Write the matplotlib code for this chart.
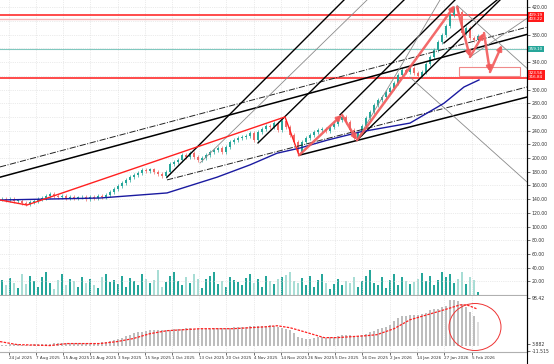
import matplotlib
matplotlib.use("Agg")
import matplotlib.pyplot as plt
import matplotlib.transforms as mtransforms
from matplotlib.patches import Rectangle, Ellipse
from matplotlib.lines import Line2D
import numpy as np

# closing prices, one per bar
closes = [140.2, 138.7, 140.2, 137.2, 137.9, 134.3, 132.9, 135.8, 137.2, 140.2,
          141.6, 144.5, 147.5, 144.5, 143.1, 144.5, 141.6, 143.1, 141.6, 142.4,
          143.1, 140.2, 143.1, 141.6, 144.5, 143.1, 146.0, 150.4, 154.8, 159.1,
          163.5, 167.9, 172.3, 175.2, 178.1, 182.5, 181.0, 183.5, 179.6, 176.7,
          173.7, 179.6, 191.3, 194.2, 197.1, 204.4, 201.5, 207.3, 201.5, 197.1,
          200.0, 204.4, 208.8, 211.7, 214.6, 208.8, 216.1, 223.4, 226.3, 229.2,
          230.7, 232.1, 236.5, 226.3, 238.0, 242.4, 246.7, 245.3, 251.1, 240.9,
          254.0, 245.3, 233.6, 223.4, 208.8, 223.4, 229.2, 233.6, 238.0, 240.9,
          242.4, 239.4, 245.3, 249.7, 255.5, 259.9, 252.6, 240.9, 229.2, 236.5,
          246.7, 258.4, 267.2, 277.4, 284.7, 289.1, 296.4, 302.2, 309.5, 321.2,
          328.5, 325.6, 331.4, 324.1, 319.7, 325.6, 337.3, 347.5, 357.7, 369.4,
          379.6, 392.7, 408.8, 419.0, 413.2, 382.5, 389.8, 375.2, 372.3, 378.1]
first_open = 139.5

volumes = [22, 14, 25, 18, 10, 30, 16, 28, 20, 12, 26, 34, 18, 9, 22, 30, 15, 24, 20, 12,
           27, 18, 23, 14, 10, 26, 31, 19, 22, 16, 28, 12, 25, 20, 14, 30, 24, 17, 22, 36,
           12, 19, 28, 33, 21, 15, 26, 18, 31, 23, 10, 24, 28, 34, 16, 20, 12, 27, 22, 19,
           14, 25, 30, 18, 23, 11, 28, 20, 16, 24, 26, 29, 33, 21, 17, 25, 14, 28, 12, 22,
           30, 18, 9, 16, 24, 14, 20, 17, 26, 12, 21, 28, 36, 18, 14, 26, 10, 22, 30, 15,
           27, 21, 16, 19, 24, 32, 20, 28, 14, 22, 33, 26, 30, 18, 24, 33, 16, 27, 22, 4]

# oscillator histogram and its signal line
osc_hist = [2, 2, 3, 3, 3, 2, 2, 2, 3, 3, 4, 4, 4, 5, 6, 6, 6, 6, 6, 5,
            5, 6, 6, 6, 6, 7, 8, 9, 11, 13, 16, 19, 22, 25, 27, 28, 30, 31, 32, 32,
            31, 31, 32, 33, 34, 34, 35, 35, 34, 34, 34, 34, 34, 35, 35, 35, 36, 36, 37, 37,
            38, 38, 39, 39, 40, 40, 40, 41, 40, 38, 36, 33, 31, 26, 18, 15, 14, 14, 15, 17,
            18, 16, 17, 18, 20, 22, 22, 21, 18, 19, 22, 24, 27, 30, 33, 35, 38, 42, 50, 56,
            59, 60, 61, 62, 62, 63, 66, 72, 73, 74, 77, 80, 92, 92, 89, 84, 78, 68, 60, 48]
sig_idx = [-0.5, 3.75, 12, 16.25, 24.5, 28.75, 32.75, 37, 41.25, 49.5, 57.75, 66.25, 68.75,
           72, 75.5, 80.5, 83.75, 91.25, 93.75, 98, 102, 106.25, 110.5, 114.5, 116.25, 118.75]
sig_val = [8, 2, 0, 4, 4, 8, 14, 24, 30, 34, 34, 38, 40,
           36, 28, 16, 16, 20, 22, 34, 52, 62, 72, 82, 82, 74]

# moving average
ma_idx = [-0.5, 24.5, 41.25, 53.75, 62, 68.75, 74.5, 81.25, 89.5, 102, 110.5, 115.5, 119.25]
ma_val = [138.7, 141.6, 149, 172, 190, 207, 214.6, 226, 238, 251, 280, 303.7, 314]

# zigzag and projected path
zig_idx = [-0.5, 6.25, 70.75, 74.25]
zig_val = [138.7, 131.4, 260, 204]
path_idx = [74.25, 85, 88.75, 113.25]
path_val = [204, 263, 226, 423]
proj_idx = [113.75, 117, 120.5, 122, 125]
proj_val = [420.5, 347.5, 382.5, 325.6, 365]

# trend lines: (x0, y0, x1, y1)
channel_solid = [(-0.5, 172, 131.25, 380.5), (74.25, 204, 131.25, 289)]
channel_dashdot = [(-0.5, 187, 131.25, 391), (41.25, 168, 131.25, 303.7)]
fan_black = [(41.25, 172, 85.5, 430.7), (64, 222, 100.5, 430.7),
             (84.5, 263, 113.25, 430.7), (88.75, 226, 124.5, 430.7),
             (110.5, 368, 123.75, 430.7)]
fan_gray = [(49.5, 192.7, 91.25, 430.7), (88.75, 226, 109.5, 430.7),
            (113.75, 423, 131.25, 331), (102, 318, 131.25, 165),
            (117, 347.5, 131.25, 404)]

levels = [408.8, 403.0, 359.2, 316.8]
level_colors = ["#ff1a1a", "#f7b8b8", "#80c8bf", "#ff1a1a"]
level_widths = [1.1, 1.0, 0.8, 1.1]

price_ticks = list(range(20, 421, 20))
hidden_ticks = [400, 360, 320]  # covered by the boxed level labels
osc_ticks = [96.0, 3.882, -11.515]
osc_tick_labels = ["98.42", "3.882", "-11.515"]

date_pos = [1.75, 8.5, 15.25, 22, 29, 35.75, 42.5, 49.25, 56, 63, 69.75, 76.5,
            83.25, 90, 97, 103.75, 110.5, 117.5]
date_labels = ["24 Jul 2025", "7 Aug 2025", "15 Aug 2025", "21 Aug 2025", "3 Sep 2025",
               "15 Sep 2025", "1 Oct 2025", "13 Oct 2025", "20 Oct 2025", "4 Nov 2025",
               "14 Nov 2025", "26 Nov 2025", "5 Dec 2025", "16 Dec 2025", "2 Jan 2026",
               "14 Jan 2026", "27 Jan 2026", "5 Feb 2026"]

W, H = 554, 364
UP, DOWN = "#26a69a", "#f06b68"


def rect(x0, y0, x1, y1):
    return [x0 / W, 1 - y1 / H, (x1 - x0) / W, (y1 - y0) / H]


fig = plt.figure(figsize=(W / 100, H / 100), dpi=100)
ax = fig.add_axes(rect(0, 0, 527, 295))
ax2 = fig.add_axes(rect(0, 296, 527, 352))

n = len(closes)
x = np.arange(n)
c = np.array(closes)
o = np.concatenate([[first_open], c[:-1]])
up = c >= o
cols = np.where(up, UP, DOWN)

# volume (same scale, bottom of price panel)
vcols = np.where(up, "#26a69a", "#a8ddd5")
ax.bar(x, volumes, width=0.3, color=vcols, zorder=1)

# candles
ax.vlines(x, np.minimum(o, c) - 2.5, np.maximum(o, c) + 2.5, color=cols, lw=0.5, zorder=3)
ax.bar(x, np.maximum(np.abs(c - o), 0.8), bottom=np.minimum(o, c), width=0.6,
       color=cols, zorder=3)

for lv, lc, lw in zip(levels, level_colors, level_widths):
    ax.axhline(lv, color=lc, lw=lw, zorder=2)

for x0, y0, x1, y1 in channel_solid:
    ax.plot([x0, x1], [y0, y1], color="black", lw=1.1, zorder=4)
for x0, y0, x1, y1 in channel_dashdot:
    ax.plot([x0, x1], [y0, y1], color="#222222", lw=0.7, ls="-.", zorder=4)
for x0, y0, x1, y1 in fan_black:
    ax.plot([x0, x1], [y0, y1], color="black", lw=1.0, zorder=4)
for x0, y0, x1, y1 in fan_gray:
    ax.plot([x0, x1], [y0, y1], color="#8a8a8a", lw=0.6, zorder=4)

ax.plot(ma_idx, ma_val, color="#1a1aa0", lw=1.0, zorder=4)
ax.plot(zig_idx, zig_val, color="#ff2020", lw=1.0, zorder=5)

arrow = dict(arrowstyle="-|>", color="#f25a5a", lw=1.8, mutation_scale=7,
             shrinkA=0, shrinkB=0, alpha=0.9)
for pts in ((path_idx, path_val), (proj_idx, proj_val)):
    for i in range(len(pts[0]) - 1):
        ax.annotate("", xy=(pts[0][i + 1], pts[1][i + 1]), xytext=(pts[0][i], pts[1][i]),
                    arrowprops=arrow, zorder=6)

ax.add_patch(Rectangle((114.25, 319.7), 15.25, 13.3, facecolor="white",
                       edgecolor="#f08a8a", lw=0.8, zorder=5))

ax.set_xlim(-0.5, 131.25)
ax.set_ylim(0, 430.7)
ax.set_xticks(date_pos)
ax.tick_params(axis="x", length=0, labelbottom=False)
ax.yaxis.tick_right()
ax.set_yticks(price_ticks)
ax.set_yticklabels(["" if t in hidden_ticks else "%.2f" % t for t in price_ticks])
ax.tick_params(axis="y", length=2, width=0.5, labelsize=3.3, pad=1.5, colors="#333333")
ax.grid(True, color="#d8d8d8", lw=0.5, ls=":")
for s in ("top", "left"):
    ax.spines[s].set_visible(False)
ax.spines["bottom"].set_color("#b0b0b0")
ax.spines["right"].set_color("black")

# boxed price labels on the right scale
trans = mtransforms.blended_transform_factory(ax.transAxes, ax.transData)
ax.text(1.004, 406.0, "409.19\n403.22", transform=trans, fontsize=3, color="white",
        va="center", ha="left", linespacing=0.9, zorder=10, clip_on=False,
        bbox=dict(boxstyle="square,pad=0.25", fc="#ff1a1a", ec="none"))
ax.text(1.004, 359.2, "359.10", transform=trans, fontsize=3, color="white",
        va="center", ha="left", zorder=10, clip_on=False,
        bbox=dict(boxstyle="square,pad=0.25", fc="#26a69a", ec="none"))
ax.text(1.004, 321.0, "323.56\n316.84", transform=trans, fontsize=3, color="white",
        va="center", ha="left", linespacing=0.9, zorder=10, clip_on=False,
        bbox=dict(boxstyle="square,pad=0.25", fc="#ff1a1a", ec="none"))

# oscillator panel
hcols = ["#bdbdbd"] * (n - 1) + ["#dedede"]
ax2.bar(x, osc_hist, width=0.55, color=hcols, zorder=2)
ax2.plot(sig_idx, sig_val, color="#ff2020", lw=0.9, ls=(0, (2, 1)), zorder=3)
ax2.set_xlim(-0.5, 131.25)
ax2.set_ylim(-13, 100)
ax2.yaxis.tick_right()
ax2.set_yticks(osc_ticks)
ax2.set_yticklabels(osc_tick_labels)
ax2.tick_params(axis="y", length=2, width=0.5, labelsize=3.3, pad=1.5, colors="#333333")
ax2.set_xticks(date_pos)
ax2.set_xticklabels(date_labels, ha="left")
ax2.tick_params(axis="x", length=2, width=0.5, labelsize=3.0, pad=1, colors="#333333")
ax2.grid(True, axis="x", color="#d8d8d8", lw=0.5, ls=":")
for s in ("top", "left"):
    ax2.spines[s].set_visible(False)
ax2.spines["bottom"].set_color("#b0b0b0")
ax2.spines["right"].set_color("black")

fig.add_artist(Line2D([527 / W, 527 / W], [0, 1], color="black", lw=0.8))
fig.add_artist(Ellipse((475 / W, 1 - 327 / H), 52 / W, 47 / H, transform=fig.transFigure,
                       fill=False, ec="#ee3333", lw=0.7))

fig.savefig("out.png", dpi=100)
